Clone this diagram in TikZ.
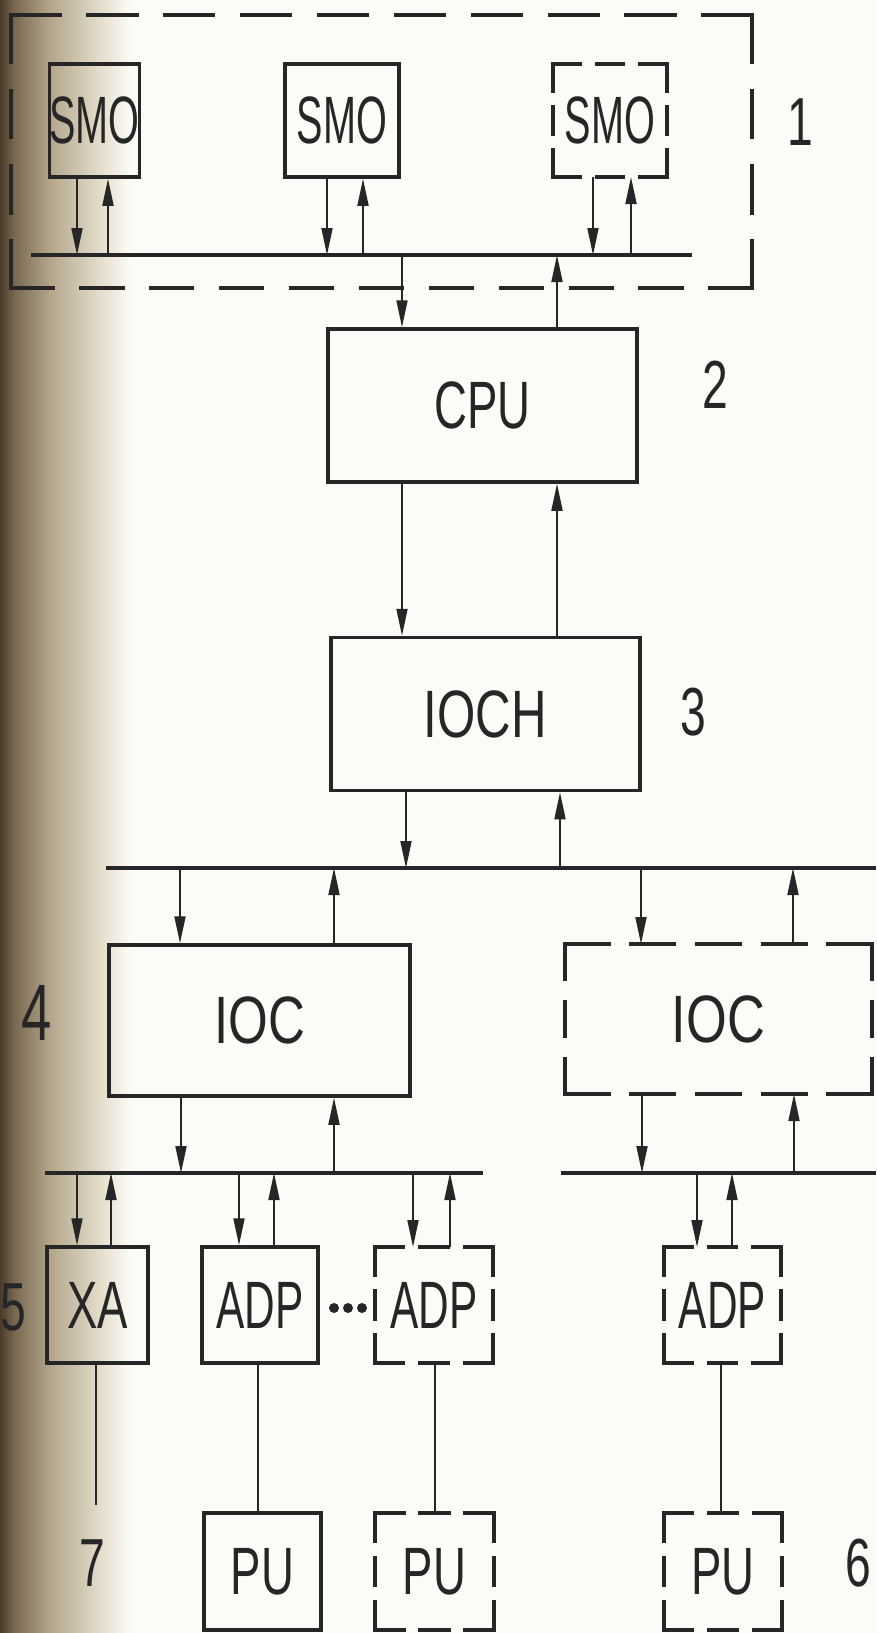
\documentclass[tikz,border=0pt]{standalone}
\usepackage{fontspec}
\usepackage{graphicx}
\newfontfamily\hand[FakeStretch=0.68]{Liberation Sans}
\usetikzlibrary{arrows.meta}
\definecolor{ink}{HTML}{262626}
\definecolor{paper}{HTML}{FCFBF7}
\definecolor{stripA}{HTML}{4A3C2A}
\definecolor{stripB}{HTML}{7A6A52}
\definecolor{stripC}{HTML}{B3A68C}
\definecolor{stripD}{HTML}{E4DDCA}
\newcommand\dashedges[5]{%
  \pgfpointanchor{#1}{north west}\pgfgetlastxy\dxA\dyA
  \pgfpointanchor{#1}{south east}\pgfgetlastxy\dxB\dyB
  \pgfmathsetmacro\dT{((\dxB-\dxA)-(#2-1)*#5)/#2}%
  \pgfmathsetmacro\dB{((\dxB-\dxA)-(#3-1)*#5)/#3}%
  \pgfmathsetmacro\dS{((\dyA-\dyB)-(#4-1)*#5)/#4}%
  \draw[dline,dash pattern=on \dT pt off #5pt] (#1.north west) -- (#1.north east);
  \draw[dline,dash pattern=on \dB pt off #5pt] (#1.south west) -- (#1.south east);
  \draw[dline,dash pattern=on \dS pt off #5pt] (#1.north west) -- (#1.south west);
  \draw[dline,dash pattern=on \dS pt off #5pt] (#1.north east) -- (#1.south east);
}
\begin{document}
\begin{tikzpicture}[x=1pt,y=-1pt,
  box/.style={draw=ink, line width=3.5pt, rectangle, inner sep=0pt, text=ink,
    font=\hand\fontsize{67}{70}\selectfont},
  dnode/.style={draw=none, rectangle, inner sep=0pt, outer sep=0pt, text=ink,
    font=\hand\fontsize{67}{70}\selectfont},
  dline/.style={draw=ink, line width=3.5pt, line cap=rect},
  numtext/.style={inner sep=0pt, text=ink, font=\hand\fontsize{68}{72}\selectfont},
  bus/.style={draw=ink, line width=4pt},
  arr/.style={draw=ink, line width=1.8pt, -{Triangle[length=27pt,width=11pt]}},
  wire/.style={draw=ink, line width=1.8pt}
]
\useasboundingbox (0,0) rectangle (876,1633);
\fill[paper] (0,0) rectangle (876,1633);
% scanned page edge
\shade[left color=stripA, right color=stripB] (0,0) rectangle (15,1633);
\shade[left color=stripB, right color=stripC] (15,0) rectangle (50,1633);
\shade[left color=stripC, right color=stripD] (50,0) rectangle (100,1633);
\shade[left color=stripD, right color=paper] (100,0) rectangle (130,1633);

% group 1
\node[dnode, minimum width=741pt, minimum height=273pt] (grp) at (381.5,151.5) {};
\dashedges{grp}{10}{11}{4}{28}
\node[box, minimum width=87pt, minimum height=113pt] (smo1) at (94.5,120.5) {\scalebox{0.87}[1]{SMO}};
\node[box, minimum width=114pt, minimum height=113pt] (smo2) at (342,120.5) {\scalebox{0.87}[1]{SMO}};
\node[dnode, minimum width=114pt, minimum height=113pt] (smo3) at (610,120.5) {\scalebox{0.87}[1]{SMO}};
\dashedges{smo3}{3}{3}{3}{16}
\node[numtext] (l1) at (800,122) {1};

\coordinate (b1L) at (31,255);
\coordinate (b1R) at (692,255);
\draw[bus] (b1L) -- (b1R);
\draw[arr] (smo1.south -| 77,0) -- (77,0 |- b1L);
\draw[arr] (108,0 |- b1L) -- (smo1.south -| 108,0);
\draw[arr] (smo2.south -| 327,0) -- (327,0 |- b1L);
\draw[arr] (363,0 |- b1L) -- (smo2.south -| 363,0);
\draw[arr] (smo3.south -| 593,0) -- (593,0 |- b1L);
\draw[arr] (631,0 |- b1L) -- (smo3.south -| 631,0);

% CPU
\node[box, minimum width=309pt, minimum height=153pt] (cpu) at (482.5,405.5) {CPU};
\node[numtext] (l2) at (715,385) {2};
\draw[arr] (402,0 |- b1L) -- (cpu.north -| 402,0);
\draw[arr] (cpu.north -| 557,0) -- (557,0 |- b1L);

% IOCH
\node[box, minimum width=309pt, minimum height=153pt] (ioch) at (485.5,714) {\scalebox{1.08}[1]{IOCH}};
\node[numtext] (l3) at (693,712) {3};
\draw[arr] (cpu.south -| 402,0) -- (ioch.north -| 402,0);
\draw[arr] (ioch.north -| 557,0) -- (cpu.south -| 557,0);

% bus 2
\coordinate (b2L) at (106,868);
\coordinate (b2R) at (876,868);
\draw[bus] (b2L) -- (b2R);
\draw[arr] (ioch.south -| 406,0) -- (406,0 |- b2L);
\draw[arr] (560,0 |- b2L) -- (ioch.south -| 560,0);

% IOCs
\node[box, minimum width=301pt, minimum height=151pt] (ioc1) at (259.5,1020.5) {\scalebox{1.12}[1]{IOC}};
\node[dnode, minimum width=307pt, minimum height=150pt] (ioc2) at (718.5,1019) {\scalebox{1.15}[1]{IOC}};
\dashedges{ioc2}{5}{5}{3}{22}
\node[numtext] (l4) at (37,1013) {\fontsize{80}{84}\selectfont 4};
\draw[arr] (180,0 |- b2L) -- (ioc1.north -| 180,0);
\draw[arr] (ioc1.north -| 334,0) -- (334,0 |- b2L);
\draw[arr] (641,0 |- b2L) -- (ioc2.north -| 641,0);
\draw[arr] (ioc2.north -| 793,0) -- (793,0 |- b2L);

% buses 3 and 4
\coordinate (b3L) at (45,1173);
\coordinate (b3R) at (483,1173);
\draw[bus] (b3L) -- (b3R);
\coordinate (b4L) at (561,1173);
\coordinate (b4R) at (876,1173);
\draw[bus] (b4L) -- (b4R);
\draw[arr] (ioc1.south -| 181,0) -- (181,0 |- b3L);
\draw[arr] (334,0 |- b3L) -- (ioc1.south -| 334,0);
\draw[arr] (ioc2.south -| 642,0) -- (642,0 |- b4L);
\draw[arr] (794,0 |- b4L) -- (ioc2.south -| 794,0);

% adapters
\node[box, minimum width=101pt, minimum height=116pt] (xa) at (97.5,1305) {XA};
\node[box, minimum width=116pt, minimum height=116pt] (adp1) at (260,1305) {\scalebox{0.93}[1]{ADP}};
\node[dnode, minimum width=118pt, minimum height=116pt] (adp2) at (434,1305) {\scalebox{0.93}[1]{ADP}};
\dashedges{adp2}{3}{3}{3}{16}
\node[dnode, minimum width=117pt, minimum height=116pt] (adp3) at (722.5,1305) {\scalebox{0.93}[1]{ADP}};
\dashedges{adp3}{3}{3}{3}{16}
\node[numtext] (l5) at (13,1307) {5};
\fill[ink] (334,1308) circle (5pt) (348,1308) circle (5pt) (362,1308) circle (5pt);

\draw[arr] (77,0 |- b3L) -- (xa.north -| 77,0);
\draw[arr] (xa.north -| 111,0) -- (111,0 |- b3L);
\draw[arr] (239,0 |- b3L) -- (adp1.north -| 239,0);
\draw[arr] (adp1.north -| 274,0) -- (274,0 |- b3L);
\draw[arr] (413,0 |- b3L) -- (adp2.north -| 413,0);
\draw[arr] (adp2.north -| 450,0) -- (450,0 |- b3L);
\draw[arr] (697,0 |- b4L) -- (adp3.north -| 697,0);
\draw[arr] (adp3.north -| 732,0) -- (732,0 |- b4L);

% peripheral units
\node[box, minimum width=117pt, minimum height=117pt] (pu1) at (262.5,1571.5) {PU};
\node[dnode, minimum width=119pt, minimum height=117pt] (pu2) at (434.5,1571.5) {PU};
\dashedges{pu2}{3}{3}{3}{16}
\node[dnode, minimum width=118pt, minimum height=117pt] (pu3) at (723,1571.5) {PU};
\dashedges{pu3}{3}{3}{3}{16}
\coordinate (xaend) at (96,1505);
\draw[wire] (xa.south -| 96,0) -- (xaend);
\draw[wire] (adp1.south -| 258,0) -- (pu1.north -| 258,0);
\draw[wire] (adp2.south -| 435,0) -- (pu2.north -| 435,0);
\draw[wire] (adp3.south -| 721,0) -- (pu3.north -| 721,0);
\node[numtext] (l7) at (92,1563) {7};
\node[numtext] (l6) at (858,1563) {6};
\end{tikzpicture}
\end{document}
